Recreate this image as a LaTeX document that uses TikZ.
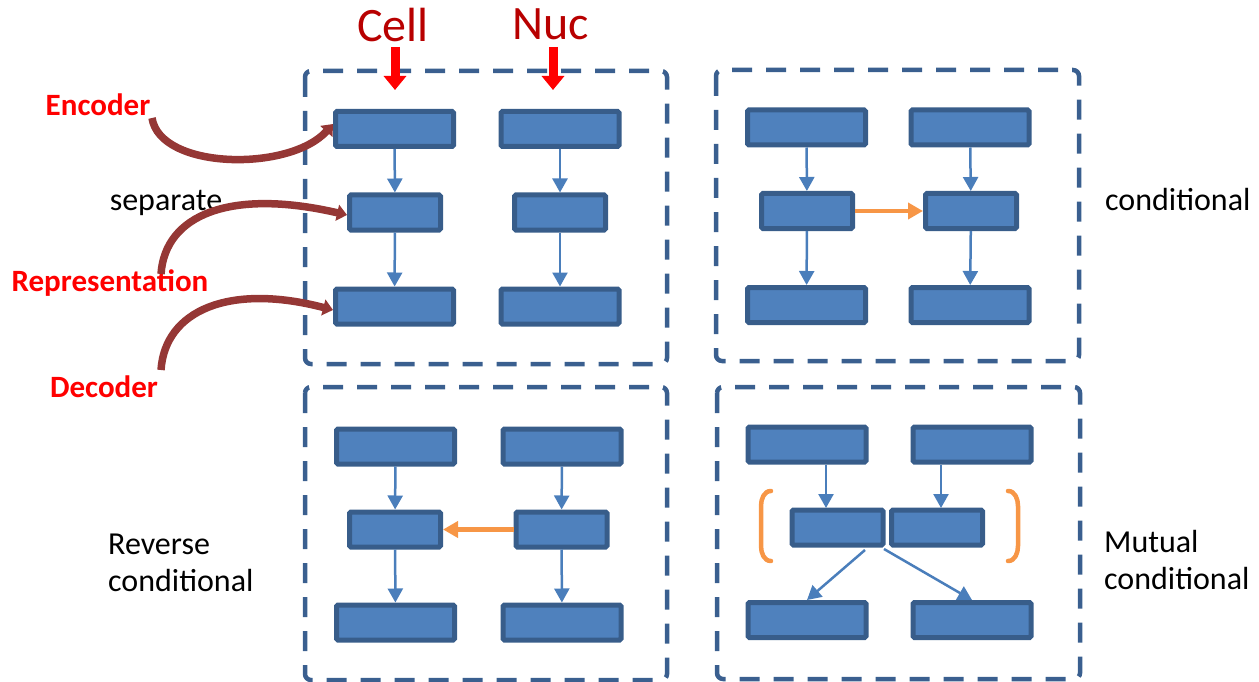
\documentclass[tikz,border=0pt]{standalone}
\usepackage{fontspec}
\setmainfont{Carlito}
\usetikzlibrary{arrows.meta}
\definecolor{boxfill}{HTML}{4F81BD}
\definecolor{boxline}{HTML}{385D8A}
\definecolor{dashcol}{HTML}{3A5F8F}
\definecolor{arrblue}{HTML}{4A7EBB}
\definecolor{orng}{HTML}{F79646}
\definecolor{curvecol}{HTML}{953735}
\definecolor{titlered}{HTML}{B80000}
\definecolor{brightred}{HTML}{FF0000}
\tikzset{
  bbox/.style={draw=boxline, fill=boxfill, line width=5pt, rounded corners=1.5pt, inner sep=0pt, minimum height=35pt},
  wide/.style={bbox, minimum width=118pt},
  narrow/.style={bbox, minimum width=91pt},
  panel/.style={draw=dashcol, line width=4.5pt, dash pattern=on 20pt off 14pt, rounded corners=6pt},
  flow/.style={draw=arrblue, line width=2.5pt, -{Triangle[width=15pt,length=14pt]}},
  cross/.style={draw=orng, line width=4.5pt, -{Triangle[width=16pt,length=15pt]}},
  bracket/.style={draw=orng, line width=4.5pt, line cap=round},
  curve/.style={draw=curvecol, line width=7.5pt, -{Triangle[width=16pt,length=10pt]}},
  redarrow/.style={draw=brightred, line width=9pt, -{Triangle[width=22pt,length=14pt]}},
  lbl/.style={font=\fontsize{32}{37}\selectfont, text=black, inner sep=0pt, align=left},
  redlbl/.style={font=\fontsize{31}{37}\selectfont\bfseries, text=brightred, inner sep=0pt},
  title/.style={font=\fontsize{48}{56}\selectfont, text=titlered, inner sep=0pt}
}
\begin{document}
\begin{tikzpicture}[x=1pt,y=-1pt]
\useasboundingbox (0,0) rectangle (1259,682);
% panels
\draw[panel] (305,71) rectangle (667,364);
\draw[panel] (716,70) rectangle (1079,361);
\draw[panel] (305,387) rectangle (667,680);
\draw[panel] (717,387) rectangle (1080,679);
% titles
\node[title, anchor=base] (cell) at (393,42) {Cell};
\node[title, anchor=base] (nuc) at (551,40) {Nuc};
\coordinate (cs) at (395,47);
\coordinate (ce) at (395,90);
\coordinate (ns) at (553,47);
\coordinate (ne) at (553,90);
\draw[redarrow] (cs) -- (ce);
\draw[redarrow] (ns) -- (ne);
% panel 1: separate
\node[wide] (a1) at (394.5,129) {};
\node[wide] (a2) at (560,129) {};
\node[narrow] (b1) at (395,212.5) {};
\node[narrow] (b2) at (560,212.5) {};
\node[wide] (c1) at (394.5,306.5) {};
\node[wide] (c2) at (560,306.5) {};
\draw[flow] (a1) -- (b1);
\draw[flow] (a2) -- (b2);
\draw[flow] (b1) -- (c1);
\draw[flow] (b2) -- (c2);
% panel 2: conditional
\node[wide] (d1) at (806.5,127.5) {};
\node[wide] (d2) at (970,127.5) {};
\node[narrow] (e1) at (807,211) {};
\node[narrow] (e2) at (971,211) {};
\node[wide] (f1) at (806.5,305) {};
\node[wide] (f2) at (970,305) {};
\draw[flow] (d1) -- (e1);
\draw[flow] (d2) -- (e2);
\draw[flow] (e1) -- (f1);
\draw[flow] (e2) -- (f2);
\draw[cross] (e1) -- (e2);
% panel 3: reverse conditional
\node[wide] (g1) at (395.5,446.5) {};
\node[wide] (g2) at (562,446.5) {};
\node[narrow] (h1) at (395,529.5) {};
\node[narrow] (h2) at (561.5,529.5) {};
\node[wide] (i1) at (395.5,622.5) {};
\node[wide] (i2) at (562,622.5) {};
\draw[flow] (g1) -- (h1);
\draw[flow] (g2) -- (h2);
\draw[flow] (h1) -- (i1);
\draw[flow] (h2) -- (i2);
\draw[cross] (h2) -- (h1);
% panel 4: mutual conditional
\node[wide] (j1) at (807,444.5) {};
\node[wide] (j2) at (972,444.5) {};
\node[narrow] (k1) at (837.5,527.5) {};
\node[narrow] (k2) at (937,527.5) {};
\node[wide] (l1) at (807,620) {};
\node[wide] (l2) at (972,620) {};
\draw[flow] (j1.south -| 826,0) -- (826,508);
\draw[flow] (j2.south -| 941,0) -- (941,508);
\coordinate (jl) at (865,550);
\coordinate (jr) at (884,549);
\draw[flow] (jl) -- (l1.north);
\draw[flow] (jr) -- (l2.north);
\draw[bracket] (771,491) to[out=180,in=90] (761,506) -- (761,546) to[out=-90,in=180] (771,561);
\draw[bracket] (1008,491) to[out=0,in=90] (1018,506) -- (1018,546) to[out=-90,in=0] (1008,561);
% side labels
\node[lbl, anchor=west] (cond) at (1105,200) {conditional};
\node[lbl, anchor=north west] (rev) at (108,534) {Reverse\\conditional};
\node[lbl, anchor=north west] (mut) at (1104,530) {Mutual\\conditional};
\node[lbl] (sep) at (166,203) {separate};
\node[redlbl] (enc) at (98,105) {Encoder};
\node[redlbl] (rep) at (110,283) {Representation};
\node[redlbl] (dec) at (104,387) {Decoder};
% curved arrows
\coordinate (e0) at (152,118);
\coordinate (r0) at (161,274);
\coordinate (d0) at (161,370);
\draw[curve] (e0) .. controls (160,170) and (290,172) .. (a1.west |- 0,124);
\draw[curve] (r0) .. controls (165,215) and (230,188) .. (b1.west |- 0,215);
\draw[curve] (d0) .. controls (165,310) and (230,283) .. (c1.west |- 0,310);
\end{tikzpicture}
\end{document}
